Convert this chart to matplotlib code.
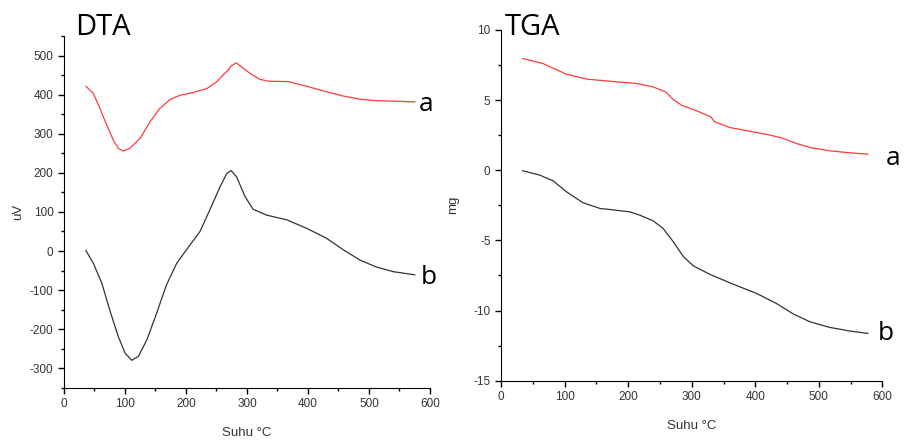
import matplotlib
matplotlib.use("Agg")
import matplotlib.pyplot as plt
from matplotlib.ticker import MultipleLocator

plt.rcParams['font.family'] = ['Liberation Sans', 'DejaVu Sans']
plt.rcParams['axes.unicode_minus'] = False

# DTA data (uV)
dta_a_x = [36, 48, 59, 70, 81, 89, 97, 108, 125, 141, 157, 174, 190, 212, 234, 250, 264, 269, 274, 282,
           291, 305, 321, 335, 368, 398, 430, 458, 485, 512, 540, 575]
dta_a_y = [422, 404, 365, 323, 284, 263, 256, 263, 289, 331, 365, 388, 399, 406, 416, 433, 456, 463, 474, 482,
           472, 455, 440, 435, 434, 422, 408, 397, 389, 385, 384, 382]
dta_b_x = [36, 48, 62, 75, 89, 100, 111, 122, 136, 152, 168, 185, 204, 223, 239, 256, 267, 274, 283, 297,
           310, 332, 365, 398, 430, 458, 485, 512, 540, 575]
dta_b_y = [1, -31, -82, -151, -219, -261, -280, -270, -227, -159, -87, -31, 10, 50, 105, 165, 199, 206, 190, 139,
           107, 92, 80, 58, 33, 3, -23, -41, -53, -61]

# TGA data (mg)
tga_a_x = [34, 66, 103, 135, 171, 213, 239, 259, 271, 284, 308, 330, 336, 360, 391, 418, 441, 465, 488, 517, 549, 577]
tga_a_y = [7.96, 7.6, 6.84, 6.49, 6.34, 6.18, 5.94, 5.58, 5.04, 4.63, 4.23, 3.8, 3.45, 3.04, 2.78, 2.55, 2.31,
           1.9, 1.6, 1.38, 1.24, 1.14]
tga_b_x = [34, 61, 82, 103, 129, 156, 171, 203, 218, 239, 255, 271, 287, 303, 329, 365, 402, 433, 460, 486, 517, 549, 577]
tga_b_y = [-0.04, -0.35, -0.76, -1.54, -2.32, -2.73, -2.8, -2.97, -3.2, -3.6, -4.15, -5.1, -6.17, -6.83, -7.43,
           -8.12, -8.78, -9.49, -10.25, -10.8, -11.2, -11.46, -11.63]

fig = plt.figure(figsize=(9.06, 4.43), dpi=100)
ax1 = fig.add_axes([0.0706, 0.125, 0.404, 0.793])
ax2 = fig.add_axes([0.553, 0.1406, 0.421, 0.792])


def style(ax):
    ax.spines['top'].set_visible(False)
    ax.spines['right'].set_visible(False)
    ax.tick_params(which='major', direction='out', length=4, width=1, labelsize=8.5, labelcolor='#333333')
    ax.tick_params(which='minor', direction='out', length=2.5, width=1)
    ax.set_xlim(0, 600)
    ax.xaxis.set_major_locator(MultipleLocator(100))
    ax.xaxis.set_minor_locator(MultipleLocator(50))
    ax.set_xlabel("Suhu °C", fontsize=9.5, color='#333333', labelpad=12)


# DTA
ax1.plot(dta_a_x, dta_a_y, color='#ff3b3b', lw=0.9)
ax1.plot(dta_b_x, dta_b_y, color='#333333', lw=0.9)
style(ax1)
ax1.set_ylim(-350, 550)
ax1.yaxis.set_minor_locator(MultipleLocator(50))
ax1.set_yticks(range(-300, 501, 100))
ax1.set_ylabel("uV", fontsize=9.5, color='#333333', labelpad=4)
ax1.text(0.03, 1.026, "DTA", transform=ax1.transAxes, fontsize=21, family='Open Sans', va='center')
ax1.text(593, 376, "a", fontsize=19, family='Open Sans', ha='center', va='center', clip_on=False)
ax1.text(598, -69, "b", fontsize=19, family='Open Sans', ha='center', va='center', clip_on=False)

# TGA
ax2.plot(tga_a_x, tga_a_y, color='#ff3b3b', lw=0.9)
ax2.plot(tga_b_x, tga_b_y, color='#333333', lw=0.9)
style(ax2)
ax2.set_ylim(-15, 10)
ax2.yaxis.set_major_locator(MultipleLocator(5))
ax2.yaxis.set_minor_locator(MultipleLocator(2.5))
ax2.set_ylabel("mg", fontsize=9.5, color='#333333', labelpad=10)
ax2.text(0.01, 1.008, "TGA", transform=ax2.transAxes, fontsize=21, family='Open Sans', va='center')
ax2.text(616, 0.86, "a", fontsize=19, family='Open Sans', ha='center', va='center', clip_on=False)
ax2.text(605, -11.63, "b", fontsize=19, family='Open Sans', ha='center', va='center', clip_on=False)

fig.savefig("out.png", dpi=100)
